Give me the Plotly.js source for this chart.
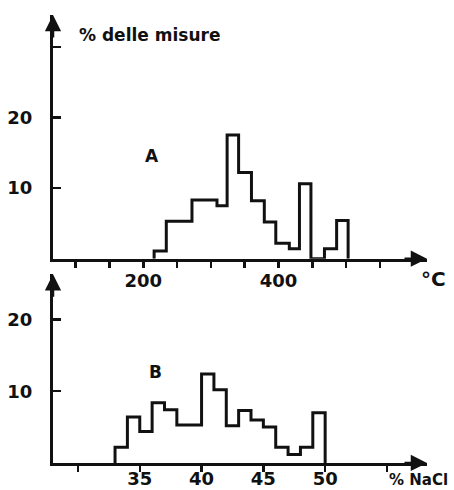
<!DOCTYPE html>
<html>
<head>
<meta charset="utf-8">
<script src="https://cdn.plot.ly/plotly-3.0.1.min.js"></script>
<style>html,body{margin:0;padding:0;background:#fff;}#chart{width:454px;height:490px;}</style>
</head>
<body>
<div id="chart"></div>
<script>
// Panel A: temperature histogram (°C), bin edges and % of measurements
var tempEdges = [216, 234, 272, 309, 324, 341, 360, 379, 396, 416, 431, 448, 468, 486, 503];
var tempPct   = [1.1, 5.3, 8.3, 7.5, 17.5, 12.2, 8.2, 5.2, 2.2, 1.4, 10.6, 0, 1.4, 5.4];
var tempTickVals = [100, 150, 200, 250, 300, 350, 400, 450, 500, 550];
var tempTickText = ['', '', '200', '', '', '', '400', '', '', ''];

// Panel B: salinity histogram (% NaCl)
var saltEdges = [33, 34, 35, 36, 37, 38, 40, 41, 42, 43, 44, 45, 46, 47, 48, 49, 50];
var saltPct   = [2.2, 6.4, 4.4, 8.4, 7.4, 5.3, 12.4, 10.2, 5.2, 7.3, 6.0, 5.0, 2.2, 1.2, 2.2, 7.0];
var saltTickVals = [30, 35, 40, 45, 50, 55];
var saltTickText = ['', '35', '40', '45', '50', ''];

var yTopVals = [10, 20, 30];
var yTopText = ['10', '20', ''];
var yBotVals = [10, 20];
var yBotText = ['10', '20'];

function stepXY(edges, vals) {
  var xs = [edges[0]].concat(edges);
  var ys = [0].concat(vals).concat([0]);
  return {x: xs, y: ys};
}

var ink = '#111';
var A = stepXY(tempEdges, tempPct);
var B = stepXY(saltEdges, saltPct);

var traces = [
  {x: A.x, y: A.y, xaxis: 'x', yaxis: 'y', mode: 'lines', line: {shape: 'hv', width: 3, color: ink}, hoverinfo: 'skip', showlegend: false},
  {x: B.x, y: B.y, xaxis: 'x2', yaxis: 'y2', mode: 'lines', line: {shape: 'hv', width: 3, color: ink}, hoverinfo: 'skip', showlegend: false}
];

var tf = {family: 'DejaVu Sans', size: 18, color: ink, weight: 'bold'};
var xTopRange = [66.4, 619.7];
var yTopRange = [0, 34.5];
var xBotRange = [27.98, 58.24];
var yBotRange = [0, 26.3];

var axBase = {showline: true, linewidth: 3, linecolor: ink, showgrid: false, zeroline: false, tickcolor: ink, tickwidth: 2.5, tickfont: tf, tickmode: 'array', fixedrange: true};

function merge(a, b) { var o = {}; for (var k in a) o[k] = a[k]; for (var k2 in b) o[k2] = b[k2]; return o; }

var layout = {
  width: 454, height: 490, autosize: false,
  margin: {l: 53, r: 27, t: 15, b: 27, pad: 0},
  paper_bgcolor: '#fff', plot_bgcolor: '#fff',
  xaxis: merge(axBase, {domain: [0, 1], anchor: 'y', range: xTopRange, tickvals: tempTickVals, ticktext: tempTickText, ticks: 'outside', ticklen: 6, ticklabelstandoff: -2}),
  yaxis: merge(axBase, {domain: [0.4561, 1], anchor: 'x', range: yTopRange, tickvals: yTopVals, ticktext: yTopText, ticks: 'inside', ticklen: 8, ticklabelstandoff: 14}),
  xaxis2: merge(axBase, {domain: [0, 1], anchor: 'y2', range: xBotRange, tickvals: saltTickVals, ticktext: saltTickText, ticks: 'outside', ticklen: 6, ticklabelstandoff: -9}),
  yaxis2: merge(axBase, {domain: [0, 0.4215], anchor: 'x2', range: yBotRange, tickvals: yBotVals, ticktext: yBotText, ticks: 'inside', ticklen: 8, ticklabelstandoff: 14}),
  annotations: [
    {xref: 'x', yref: 'y', x: xTopRange[1], y: 0, ax: -24, ay: 0, text: '', showarrow: true, arrowhead: 2, arrowsize: 1.3, arrowwidth: 2.5, arrowcolor: ink},
    {xref: 'x', yref: 'y', x: xTopRange[0], y: yTopRange[1], ax: 0, ay: 24, text: '', showarrow: true, arrowhead: 2, arrowsize: 1.3, arrowwidth: 2.5, arrowcolor: ink},
    {xref: 'x2', yref: 'y2', x: xBotRange[1], y: 0, ax: -24, ay: 0, text: '', showarrow: true, arrowhead: 2, arrowsize: 1.3, arrowwidth: 2.5, arrowcolor: ink},
    {xref: 'x2', yref: 'y2', x: xBotRange[0], y: yBotRange[1], ax: 0, ay: 24, text: '', showarrow: true, arrowhead: 2, arrowsize: 1.3, arrowwidth: 2.5, arrowcolor: ink},
    {xref: 'paper', yref: 'paper', x: 0.064, y: 0.9553, xanchor: 'left', yanchor: 'middle', text: '% delle misure', showarrow: false, font: {family: 'DejaVu Sans', size: 17, color: ink, weight: 'bold'}},
    {xref: 'paper', yref: 'paper', x: 0.2647, y: 0.685, xanchor: 'center', yanchor: 'middle', text: 'A', showarrow: false, font: {family: 'DejaVu Sans', size: 17, color: ink, weight: 'bold'}},
    {xref: 'paper', yref: 'paper', x: 0.2754, y: 0.2026, xanchor: 'center', yanchor: 'middle', text: 'B', showarrow: false, font: {family: 'DejaVu Sans', size: 17, color: ink, weight: 'bold'}},
    {xref: 'paper', yref: 'paper', x: 1.0187, y: 0.4103, xanchor: 'center', yanchor: 'middle', text: '°C', showarrow: false, font: {family: 'DejaVu Sans', size: 20, color: ink, weight: 'bold'}},
    {xref: 'paper', yref: 'paper', x: 0.893, y: -0.0386, xanchor: 'left', yanchor: 'middle', text: '% NaCl', showarrow: false, font: {family: 'DejaVu Sans', size: 15, color: ink, weight: 'bold'}}
  ]
};

Plotly.newPlot('chart', traces, layout, {displayModeBar: false, staticPlot: true});
</script>
</body>
</html>
